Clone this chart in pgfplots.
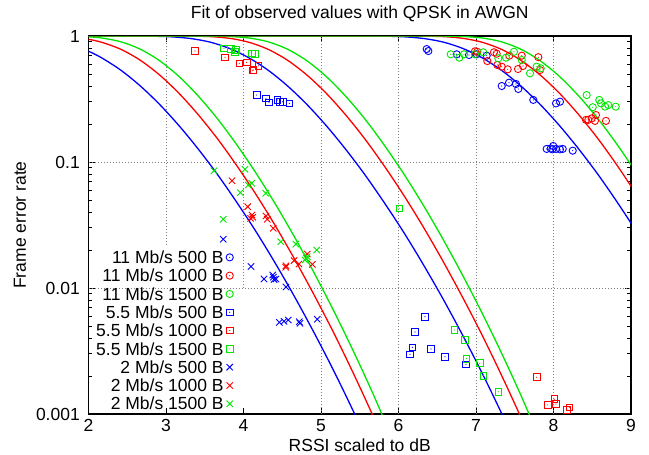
\documentclass[border=0pt]{standalone}
\usepackage{fontspec}
\setmainfont{Liberation Sans}
\usepackage{pgfplots}
\pgfplotsset{compat=1.18}
\definecolor{gpred}{RGB}{255,0,0}
\definecolor{gpgreen}{RGB}{0,230,0}
\definecolor{gpblue}{RGB}{0,0,255}
\pgfdeclareplotmark{cdot}{\pgfpathcircle{\pgfpointorigin}{\pgfplotmarksize}\pgfusepathqstroke\pgfpathcircle{\pgfpointorigin}{0.6bp}\pgfusepathqfill}
\pgfdeclareplotmark{sdot}{\pgfpathrectangle{\pgfpoint{-\pgfplotmarksize}{-\pgfplotmarksize}}{\pgfpoint{2\pgfplotmarksize}{2\pgfplotmarksize}}\pgfusepathqstroke\pgfpathcircle{\pgfpointorigin}{0.6bp}\pgfusepathqfill}
\newcommand{\fs}{\fontsize{17.5bp}{21bp}\selectfont}
\tikzset{gridline/.style={gray, line width=0.8bp, dash pattern=on 1bp off 2bp}}
\begin{document}
\begin{tikzpicture}
\path[use as bounding box] (0,0) rectangle (649bp,455bp);
\begin{axis}[
  at={(88.5bp,41bp)}, anchor=south west,
  scale only axis, width=542.5bp, height=378bp,
  xmin=2, xmax=9, ymin=0.001, ymax=1, ymode=log,
  xtick={2,3,4,5,6,7,8,9}, xticklabels={2,3,4,5,6,7,8,9},
  ytick={0.001,0.01,0.1,1}, yticklabels={0.001,0.01,0.1,1},
  tick align=inside, major tick length=6bp, minor tick length=3.5bp,
  tick style={black, line width=0.8bp},
  axis line style={line width=1.1bp},
  xticklabel style={font=\fs, anchor=base, inner sep=0pt, yshift=-17.7bp},
  yticklabel style={font=\fs, anchor=east, inner sep=0pt, xshift=-8.5bp},
  title={Fit of observed values with QPSK in AWGN},
  title style={font=\fs, at={(axis description cs:0.5,1)}, anchor=base, inner sep=0pt, yshift=11.7bp},
  xlabel={RSSI scaled to dB},
  xlabel style={font=\fs, at={(axis description cs:0.5,0)}, anchor=base, inner sep=0pt, yshift=-37bp},
  ylabel={Frame error rate},
  ylabel style={font=\fs, at={(axis description cs:-0.1263,0.5)}, anchor=center, inner sep=0pt, rotate=0},
  legend plot pos=right,
  legend cell align=right,
  legend image code/.code={\draw[mark repeat=2,mark phase=2,#1] plot coordinates {(0bp,0bp) (8.5bp,0bp) (17bp,0bp)};},
  legend style={font=\fs, draw=none, fill=none, at={(axis description cs:0.2673,0.009)}, anchor=south east,
    inner sep=0pt, row sep=5bp, column sep=2.5bp,
    nodes={inner sep=0pt, text height=12.8bp, text depth=0.5bp}},
  every axis plot/.append style={line width=0.9bp},
]
\draw[gridline] (axis cs:3,0.0219) -- (axis cs:3,1);
\draw[gridline] (axis cs:4,0.01) -- (axis cs:4,1);
\draw[gridline] (axis cs:5,0.001) -- (axis cs:5,1);
\draw[gridline] (axis cs:6,0.001) -- (axis cs:6,1);
\draw[gridline] (axis cs:7,0.001) -- (axis cs:7,1);
\draw[gridline] (axis cs:8,0.001) -- (axis cs:8,1);
\draw[gridline] (axis cs:2,0.1) -- (axis cs:9,0.1);
\draw[gridline] (axis cs:2,0.01) -- (axis cs:9,0.01);

% 11 Mb/s 500 B
\addplot[only marks, gpblue, mark=cdot, mark size=3.6bp] coordinates {
(6.364,0.788) (6.385,0.760) (6.751,0.716) (6.910,0.707) (7.009,0.716) (7.138,0.698)
(7.332,0.401) (7.426,0.426) (7.516,0.416) (7.546,0.380) (7.739,0.311) (8.032,0.292) (8.084,0.301)
(7.912,0.127) (7.964,0.128) (7.997,0.134) (7.985,0.126) (8.032,0.127) (8.084,0.126) (8.119,0.127) (8.248,0.123)};
\addlegendentry{11 Mb/s 500 B}
% 11 Mb/s 1000 B
\addplot[only marks, gpred, mark=cdot, mark size=3.6bp] coordinates {
(6.987,0.756) (7.017,0.750) (7.146,0.633) (7.232,0.743) (7.267,0.724) (7.275,0.589) (7.332,0.571)
(7.409,0.544) (7.430,0.698) (7.542,0.547) (7.590,0.698) (7.606,0.578) (7.804,0.679) (7.826,0.537)
(8.419,0.216) (8.449,0.216) (8.493,0.222) (8.548,0.236) (8.535,0.212) (8.677,0.212)};
\addlegendentry{11 Mb/s 1000 B}
% 11 Mb/s 1500 B
\addplot[only marks, gpgreen, mark=cdot, mark size=3.6bp] coordinates {
(6.674,0.716) (6.785,0.673) (6.845,0.716) (6.987,0.716) (7.094,0.743) (7.288,0.665) (7.387,0.673)
(7.490,0.750) (7.590,0.645) (7.697,0.506) (7.783,0.571) (7.835,0.554)
(8.428,0.340) (8.506,0.272) (8.591,0.311) (8.613,0.292) (8.665,0.275) (8.707,0.283) (8.803,0.275)};
\addlegendentry{11 Mb/s 1500 B}
% 5.5 Mb/s 500 B
\addplot[only marks, gpblue, mark=sdot, mark size=3.3bp] coordinates {
(4.170,0.340) (4.290,0.320) (4.329,0.296) (4.436,0.311) (4.471,0.301) (4.506,0.301) (4.591,0.292)
(6.342,0.00592) (6.213,0.00448) (6.178,0.00338) (6.148,0.00298) (6.419,0.00328) (6.600,0.00285) (6.871,0.00248)};
\addlegendentry{5.5 Mb/s 500 B}
% 5.5 Mb/s 1000 B
\addplot[only marks, gpred, mark=sdot, mark size=3.3bp] coordinates {
(3.374,0.760) (3.761,0.678) (3.946,0.607) (4.041,0.618) (4.191,0.581) (4.126,0.537) (4.119,0.531)
(7.783,0.00196) (7.925,0.00118) (8.010,0.00131) (8.032,0.00120) (8.170,0.00108) (8.204,0.00113)};
\addlegendentry{5.5 Mb/s 1000 B}
% 5.5 Mb/s 1500 B
\addplot[only marks, gpgreen, mark=sdot, mark size=3.3bp] coordinates {
(3.748,0.799) (3.835,0.789) (3.903,0.774) (3.886,0.746) (4.106,0.729) (4.148,0.720)
(6.010,0.0429) (6.720,0.00464) (6.854,0.00385) (6.875,0.00275) (7.048,0.00253) (7.094,0.00201) (7.288,0.00150)};
\addlegendentry{5.5 Mb/s 1500 B}
% 2 Mb/s 500 B
\addplot[only marks, gpblue, mark=x, mark size=4.5bp] coordinates {
(3.739,0.0244) (4.097,0.0148) (4.265,0.0118) (4.377,0.0127) (4.394,0.0117) (4.419,0.0118) (4.385,0.0122)
(4.548,0.0102) (4.462,0.00534) (4.523,0.00544) (4.578,0.00557) (4.729,0.00525) (4.720,0.00540) (4.952,0.00565)};
\addlegendentry{2 Mb/s 500 B}
% 2 Mb/s 1000 B
\addplot[only marks, gpred, mark=x, mark size=4.5bp] coordinates {
(3.852,0.0711) (4.054,0.0442) (4.110,0.0380) (4.119,0.0364) (4.093,0.0357) (4.290,0.0373) (4.307,0.0351)
(4.385,0.0298) (4.548,0.0150) (4.545,0.0146) (4.652,0.0165) (4.716,0.0155) (4.823,0.0186) (4.888,0.0154)};
\addlegendentry{2 Mb/s 1000 B}
% 2 Mb/s 1500 B
\addplot[only marks, gpgreen, mark=x, mark size=4.5bp] coordinates {
(3.619,0.0853) (4.019,0.0875) (4.106,0.0678) (4.062,0.0657) (3.959,0.0571) (4.286,0.0565) (3.739,0.0351)
(4.480,0.0233) (4.677,0.0223) (4.823,0.0177) (4.794,0.0167) (4.810,0.0172) (4.945,0.0200)};
\addlegendentry{2 Mb/s 1500 B}

% fitted curves, 2 Mb/s
\addplot[gpblue, line width=1.3bp, smooth, forget plot] coordinates {
(2.00,0.758) (2.17,0.671) (2.42,0.534) (2.67,0.4007) (2.92,0.2854) (3.17,0.1936) (3.42,0.1258) (3.67,0.0787)
(3.92,0.0472) (4.17,0.0275) (4.42,0.01536) (4.67,0.00829) (4.92,0.00431) (5.17,0.002168) (5.42,0.001044)
(5.67,0.000484) (5.92,0.000212)};
\addplot[gpred, line width=1.3bp, smooth, forget plot] coordinates {
(2.00,0.942) (2.17,0.892) (2.42,0.783) (2.67,0.641) (2.92,0.489) (3.17,0.3498) (3.42,0.2357) (3.67,0.1513)
(3.92,0.0923) (4.17,0.0542) (4.42,0.0305) (4.67,0.0165) (4.92,0.0086) (5.17,0.004336) (5.42,0.002088)
(5.67,0.000968) (5.92,0.000424)};
\addplot[gpgreen, line width=1.3bp, smooth, forget plot] coordinates {
(2.00,0.986) (2.17,0.9644) (2.42,0.899) (2.67,0.785) (2.92,0.635) (3.17,0.4757) (3.42,0.3318) (3.67,0.218)
(3.92,0.1352) (4.17,0.0802) (4.42,0.0454) (4.67,0.02465) (4.92,0.01288) (5.17,0.00648) (5.42,0.003132)
(5.67,0.001452) (5.92,0.000636) (6.17,0.00027)};
% fitted curves, 5.5 Mb/s
\addplot[gpblue, line width=1.3bp, smooth, forget plot] coordinates {
(2.00,1) (2.32,0.99993) (2.57,0.99936) (2.82,0.9963) (3.07,0.985) (3.32,0.9545) (3.57,0.894) (3.82,0.7965)
(4.07,0.671) (4.32,0.534) (4.57,0.4007) (4.82,0.2854) (5.07,0.1936) (5.32,0.1258) (5.57,0.0787) (5.82,0.0472)
(6.07,0.0275) (6.32,0.01536) (6.57,0.00829) (6.82,0.00431) (7.07,0.002168) (7.32,0.001044) (7.57,0.000484) (7.82,0.000212)};
\addplot[gpred, line width=1.3bp, smooth, forget plot] coordinates {
(2.00,1) (2.82,0.99999) (3.07,0.99978) (3.32,0.9979) (3.57,0.9888) (3.82,0.9586) (4.07,0.892) (4.32,0.783)
(4.57,0.641) (4.82,0.489) (5.07,0.3498) (5.32,0.2357) (5.57,0.1513) (5.82,0.0923) (6.07,0.0542) (6.32,0.0305)
(6.57,0.0165) (6.82,0.0086) (7.07,0.004336) (7.32,0.002088) (7.57,0.000968) (7.82,0.000424)};
\addplot[gpgreen, line width=1.3bp, smooth, forget plot] coordinates {
(2.00,1) (3.07,1) (3.32,0.99991) (3.57,0.9988) (3.82,0.9916) (4.07,0.9644) (4.32,0.899) (4.57,0.785)
(4.82,0.635) (5.07,0.4757) (5.32,0.3318) (5.57,0.218) (5.82,0.1352) (6.07,0.0802) (6.32,0.0454) (6.57,0.02465)
(6.82,0.01288) (7.07,0.00648) (7.32,0.003132) (7.57,0.001452) (7.82,0.000636) (8.07,0.00027)};
% fitted curves, 11 Mb/s
\addplot[gpblue, line width=1.3bp, smooth, forget plot] coordinates {
(2.00,1) (5.33,0.99993) (5.58,0.99936) (5.83,0.9963) (6.08,0.985) (6.33,0.9545) (6.58,0.894) (6.83,0.7965)
(7.08,0.671) (7.33,0.534) (7.58,0.4007) (7.83,0.2854) (8.08,0.1936) (8.33,0.1258) (8.58,0.0787) (8.83,0.0472) (9.08,0.0275)};
\addplot[gpred, line width=1.3bp, smooth, forget plot] coordinates {
(2.00,1) (5.83,0.99999) (6.08,0.99978) (6.33,0.9979) (6.58,0.9888) (6.83,0.9586) (7.08,0.892) (7.33,0.783)
(7.58,0.641) (7.83,0.489) (8.08,0.3498) (8.33,0.2357) (8.58,0.1513) (8.83,0.0923) (9.08,0.0542)};
\addplot[gpgreen, line width=1.3bp, smooth, forget plot] coordinates {
(2.00,1) (6.08,1) (6.33,0.99991) (6.58,0.9988) (6.83,0.9916) (7.08,0.9644) (7.33,0.899) (7.58,0.785)
(7.83,0.635) (8.08,0.4757) (8.33,0.3318) (8.58,0.218) (8.83,0.1352) (9.08,0.0802)};
\end{axis}
\end{tikzpicture}
\end{document}
